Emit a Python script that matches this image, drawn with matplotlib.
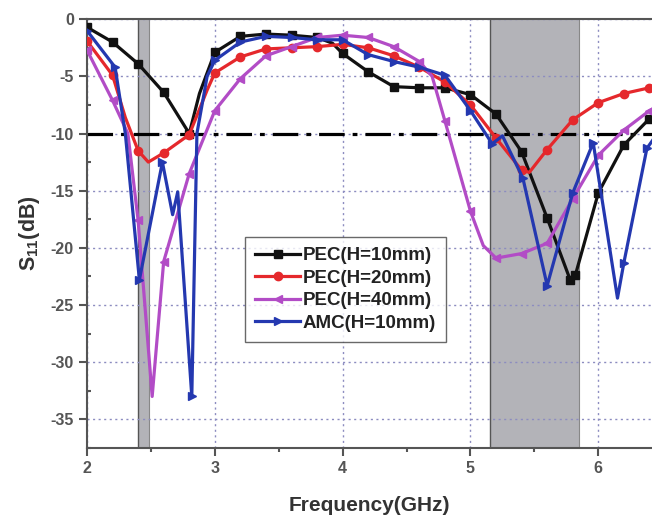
import numpy as np
import matplotlib
matplotlib.use("Agg")
import matplotlib.pyplot as plt
from matplotlib.ticker import MultipleLocator

plt.rcParams['font.family'] = ['Liberation Sans', 'DejaVu Sans']
plt.rcParams['mathtext.fontset'] = 'custom'
plt.rcParams['mathtext.rm'] = 'Liberation Sans:bold'
plt.rcParams['mathtext.bf'] = 'Liberation Sans:bold'
plt.rcParams['axes.unicode_minus'] = False

# ---- data ----
labels = ["PEC(H=10mm)", "PEC(H=20mm)", "PEC(H=40mm)", "AMC(H=10mm)"]

pec10_x = [2.0, 2.2, 2.4, 2.6, 2.8, 2.88, 3.0, 3.2, 3.4, 3.6, 3.8, 3.92, 4.0, 4.2, 4.4, 4.6, 4.8,
           5.0, 5.2, 5.4, 5.6, 5.78, 5.82, 6.0, 6.2, 6.4, 6.45]
pec10_y = [-0.7, -2.0, -3.9, -6.4, -10.0, -6.5, -2.9, -1.5, -1.3, -1.4, -1.6, -2.1, -3.0, -4.6, -5.9, -6.0, -6.0,
           -6.6, -8.3, -11.6, -17.4, -22.8, -22.4, -15.2, -11.0, -8.7, -8.4]

pec20_x = [2.0, 2.2, 2.3, 2.4, 2.48, 2.6, 2.8, 2.94, 3.0, 3.2, 3.4, 3.6, 3.8, 4.0, 4.2, 4.4, 4.6, 4.8,
           5.0, 5.2, 5.4, 5.46, 5.6, 5.8, 6.0, 6.2, 6.4, 6.45]
pec20_y = [-1.9, -4.9, -8.6, -11.5, -12.5, -11.7, -10.1, -6.2, -4.7, -3.3, -2.6, -2.5, -2.4, -2.2, -2.5, -3.2, -4.2, -5.5,
           -7.5, -10.4, -13.2, -13.4, -11.4, -8.8, -7.3, -6.5, -6.0, -5.9]

pec40_x = [2.0, 2.2, 2.32, 2.4, 2.51, 2.6, 2.8, 3.0, 3.2, 3.4, 3.6, 3.8, 4.0, 4.2, 4.4, 4.6, 4.7, 4.8,
           5.0, 5.1, 5.2, 5.4, 5.6, 5.8, 6.0, 6.2, 6.4, 6.45]
pec40_y = [-2.7, -7.1, -10.0, -17.6, -33.0, -21.2, -13.5, -8.0, -5.2, -3.2, -2.4, -1.6, -1.4, -1.6, -2.4, -3.7, -5.0, -8.9,
           -16.8, -19.8, -20.9, -20.5, -19.6, -15.7, -11.9, -9.7, -8.0, -7.7]

amc10_x = [2.0, 2.22, 2.3, 2.41, 2.59, 2.67, 2.71, 2.82, 2.86, 2.94, 3.0, 3.2, 3.4, 3.6, 3.8, 4.0, 4.2, 4.4,
           4.6, 4.8, 5.0, 5.17, 5.25, 5.41, 5.6, 5.8, 5.96, 6.15, 6.2, 6.38, 6.45]
amc10_y = [-1.0, -4.2, -10.0, -22.8, -12.5, -17.1, -15.1, -33.0, -10.0, -5.0, -3.6, -2.0, -1.5, -1.6, -1.8, -1.8, -3.1, -3.7,
           -4.2, -4.9, -8.0, -10.9, -10.2, -13.9, -23.3, -15.2, -10.8, -24.4, -21.3, -11.3, -10.2]

bands = [(2.40, 2.485), (5.15, 5.85)]
threshold = -10

# ---- style ----
colors = ['#111111', '#e5282c', '#b24cc6', '#2438b0']
markers = ['s', 'o', '<', '>']

fig = plt.figure(figsize=(6.52, 5.19), dpi=100)
ax = fig.add_axes([0.1334, 0.137, 0.8666, 0.826])

for lo, hi in bands:
    ax.axvspan(lo, hi, color='#b3b3b8', zorder=0, lw=0)
    ax.axvline(lo, color='#555555', lw=1.0, zorder=0.2)
    ax.axvline(hi, color='#888888', lw=0.8, zorder=0.2)

series = [(pec10_x, pec10_y), (pec20_x, pec20_y), (pec40_x, pec40_y), (amc10_x, amc10_y)]
for (xs, ys), c, m, lab in zip(series, colors, markers, labels):
    xs = np.array(xs)
    me = [i for i, v in enumerate(xs) if abs(v / 0.2 - round(v / 0.2)) * 0.2 < 0.045]
    ax.plot(xs, ys, color=c, lw=2.3, marker=m, ms=6, markevery=me, label=lab, zorder=3)

ax.axhline(threshold, color='black', lw=2.3, dashes=(8, 2.5, 1.5, 2.5), zorder=2.5)

ax.set_xlim(2, 6.42)
ax.set_ylim(-37.5, 0)
ax.xaxis.set_major_locator(MultipleLocator(1))
ax.xaxis.set_minor_locator(MultipleLocator(0.5))
ax.yaxis.set_major_locator(MultipleLocator(5))
ax.yaxis.set_minor_locator(MultipleLocator(2.5))
ax.set_axisbelow(True)
ax.grid(True, which='major', color='#8c8cc0', ls=(0, (1.5, 2.5)), lw=1.0)

for s in ['left', 'bottom', 'top']:
    ax.spines[s].set_color('#555555')
    ax.spines[s].set_linewidth(1.5)
ax.spines['right'].set_visible(False)
ax.tick_params(which='both', direction='out', colors='#555555', labelcolor='#555555', width=1.5)
ax.tick_params(which='major', length=6, labelsize=11.5)
ax.tick_params(axis='y', which='minor', direction='in', length=3)
ax.tick_params(axis='x', which='minor', direction='out', length=3)
for t in ax.get_xticklabels() + ax.get_yticklabels():
    t.set_fontweight('bold')

ax.set_xlabel('Frequency(GHz)', fontsize=15, fontweight='bold', color='#333333', labelpad=14)
ax.set_ylabel(r'S$_{11}$(dB)', fontsize=15.5, fontweight='bold', color='#333333', labelpad=6)

leg = ax.legend(loc='upper left', bbox_to_anchor=(0.28, 0.492), frameon=True,
                fancybox=False, edgecolor='#444444', handlelength=2.4, handletextpad=0.1,
                labelspacing=0.28, borderpad=0.55, borderaxespad=0.0,
                prop={'weight': 'bold', 'size': 13.5})
leg.get_frame().set_linewidth(1.0)
for t in leg.get_texts():
    t.set_color('#222222')

fig.savefig('out.png', dpi=100)
